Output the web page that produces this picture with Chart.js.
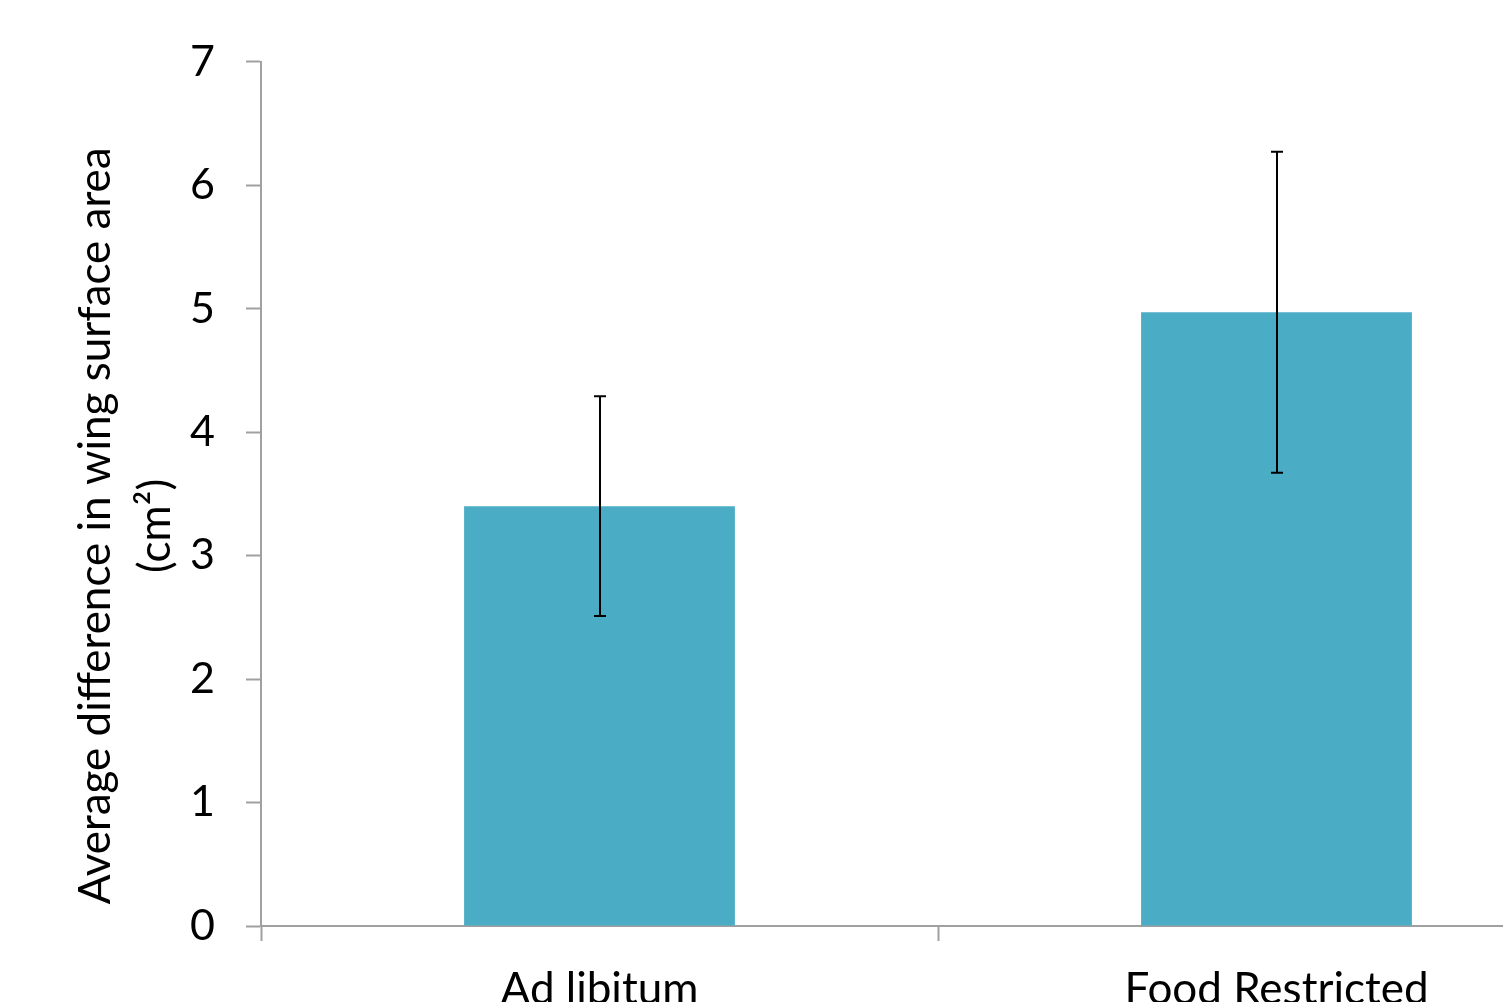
<!DOCTYPE html>
<html>
<head>
<meta charset="utf-8">
<script src="https://cdn.jsdelivr.net/npm/chart.js@4.4.1/dist/chart.umd.min.js"></script>
<style>
  html, body { margin: 0; padding: 0; background: #ffffff; overflow: hidden; }
  #wrap { position: absolute; left: 0; top: 0; width: 1620px; height: 1040px; }
</style>
</head>
<body>
<div id="wrap"><canvas id="chart" width="1620" height="1040"></canvas></div>
<script>
// Groups and measured values
const categories = ['Ad libitum', 'Food Restricted'];
const meanDiff = [3.40, 4.97];          // average difference in wing surface area (cm²)
const errAmount = [0.89, 1.30];         // error bar half-length
const yTitleLines = ['Average difference in wing surface area', '(cm\u00B2)'];

const FONT = 'Lato, "Open Sans", "DejaVu Sans", sans-serif';
const AXIS_GREY = '#a0a0a0';

// Draws symmetric error bars on top of each bar, using the chart's own scales
const errorBars = {
  id: 'errorBars',
  afterDatasetsDraw(chart) {
    const { ctx, scales: { x, y } } = chart;
    const cap = 6;
    ctx.save();
    ctx.strokeStyle = '#000000';
    ctx.lineWidth = 2;
    meanDiff.forEach((v, i) => {
      const px = Math.round(x.getPixelForValue(i));
      const hi = y.getPixelForValue(v + errAmount[i]);
      const lo = y.getPixelForValue(v - errAmount[i]);
      ctx.beginPath();
      ctx.moveTo(px, hi); ctx.lineTo(px, lo);
      ctx.moveTo(px - cap, hi); ctx.lineTo(px + cap, hi);
      ctx.moveTo(px - cap, lo); ctx.lineTo(px + cap, lo);
      ctx.stroke();
    });
    ctx.restore();
  }
};

// Two-line rotated y-axis title
const yAxisTitle = {
  id: 'yAxisTitle',
  afterDraw(chart) {
    const { ctx, chartArea } = chart;
    const cy = (chartArea.top + chartArea.bottom) / 2 + 32;
    const lineGap = 60;
    const firstX = 96;
    ctx.save();
    ctx.fillStyle = '#000000';
    ctx.font = '44px ' + FONT;
    ctx.textAlign = 'center';
    ctx.textBaseline = 'middle';
    yTitleLines.forEach((line, i) => {
      ctx.save();
      ctx.translate(firstX + i * lineGap, cy);
      ctx.rotate(-Math.PI / 2);
      ctx.fillText(line, 0, 0);
      ctx.restore();
    });
    ctx.restore();
  }
};

new Chart(document.getElementById('chart'), {
  type: 'bar',
  data: {
    labels: categories,
    datasets: [{
      data: meanDiff,
      backgroundColor: '#4bacc6',
      borderWidth: 0,
      barPercentage: 0.4,
      categoryPercentage: 1.0
    }]
  },
  options: {
    responsive: false,
    animation: false,
    devicePixelRatio: 1,
    layout: { padding: { top: 61.7, right: 5, bottom: 0, left: 0 } },
    plugins: {
      legend: { display: false },
      tooltip: { enabled: false }
    },
    scales: {
      x: {
        grid: {
          display: true,
          drawOnChartArea: false,
          drawTicks: true,
          tickLength: 15,
          tickColor: AXIS_GREY,
          tickWidth: 2,
          offset: true
        },
        border: { display: true, color: AXIS_GREY, width: 2 },
        ticks: {
          color: '#000000',
          font: { family: FONT, size: 44 },
          padding: 22,
          maxRotation: 0
        },
        afterFit(scale) { scale.height = 1040 - 926; }
      },
      y: {
        min: 0,
        max: 7,
        grid: {
          display: true,
          drawOnChartArea: false,
          drawTicks: true,
          tickLength: 15,
          tickColor: AXIS_GREY,
          tickWidth: 2
        },
        border: { display: true, color: AXIS_GREY, width: 2 },
        ticks: {
          stepSize: 1,
          color: '#000000',
          font: { family: FONT, size: 43 },
          padding: 31
        },
        afterFit(scale) { scale.width = 261; }
      }
    }
  },
  plugins: [errorBars, yAxisTitle]
});
</script>
</body>
</html>
